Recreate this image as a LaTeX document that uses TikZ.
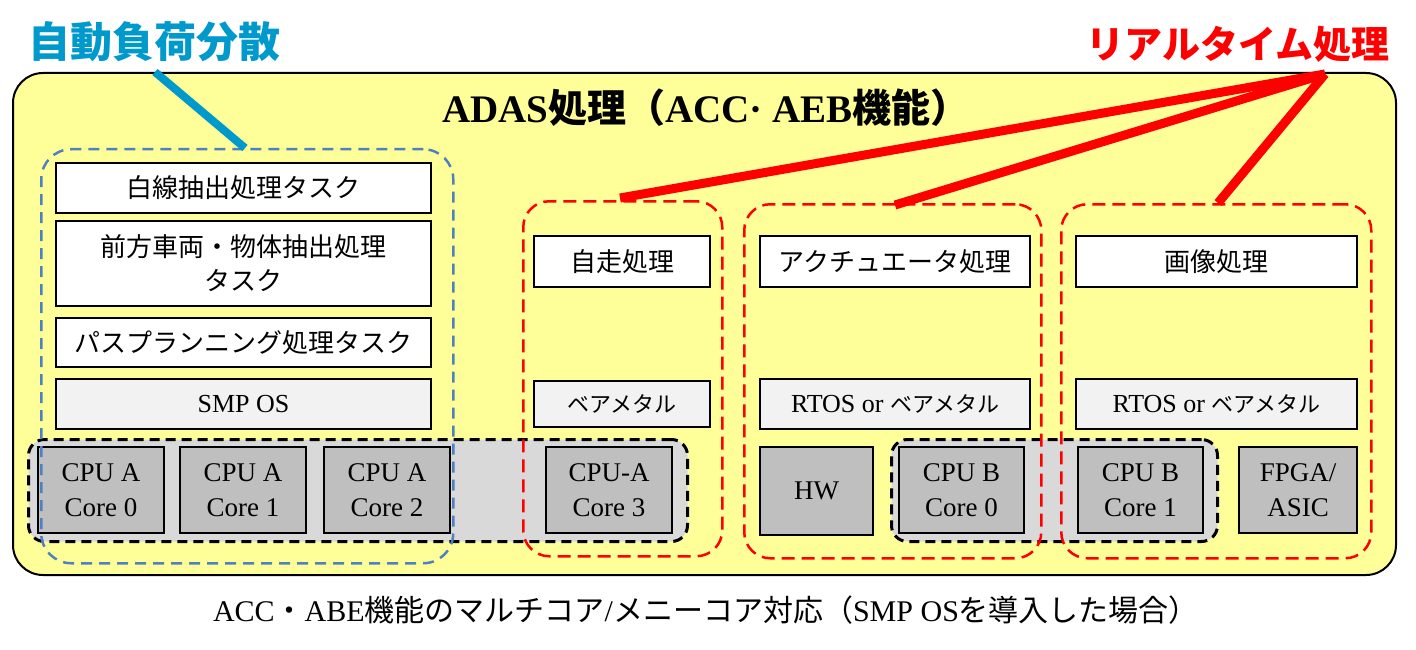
\documentclass[tikz,border=0pt]{standalone}
\usepackage{fontspec}
\setmainfont{Liberation Serif}
\newfontfamily\jp{Noto Sans CJK JP}
\definecolor{ylw}{HTML}{FFFF99}
\definecolor{grpgray}{HTML}{D9D9D9}
\definecolor{cpugray}{HTML}{BFBFBF}
\definecolor{osgray}{HTML}{F2F2F2}
\definecolor{lblblue}{HTML}{0099CC}
\definecolor{dashblue}{HTML}{4F81BD}
\definecolor{lblred}{HTML}{FF0000}
\begin{document}
\begin{tikzpicture}[x=1pt,y=-1pt,
  mainbox/.style={draw=black, line width=2pt, fill=ylw, rounded corners=30pt, anchor=north west, inner sep=0pt},
  taskbox/.style={draw=black, line width=2pt, fill=white, anchor=north west, align=center, inner sep=0pt, font=\jp\fontsize{26}{34}\selectfont},
  osbox/.style={taskbox, fill=osgray, font=\fontsize{26}{34}\selectfont},
  cpubox/.style={draw=black, line width=2pt, fill=cpugray, anchor=north west, align=center, inner sep=0pt, font=\fontsize{27}{35}\selectfont},
  grpbox/.style={draw=black, line width=3pt, dash pattern=on 10pt off 6pt, fill=grpgray, rounded corners=16pt, anchor=north west, inner sep=0pt},
  bluebox/.style={draw=dashblue, line width=2.5pt, dash pattern=on 11pt off 7pt, rounded corners=30pt, anchor=north west, inner sep=0pt},
  redbox/.style={draw=lblred, line width=2.5pt, dash pattern=on 13pt off 7pt, rounded corners=26pt, anchor=north west, inner sep=0pt},
  blueline/.style={draw=lblblue, line width=8pt},
  redline/.style={draw=lblred, line width=9pt},
  kana/.style={font=\jp\fontsize{22}{30}\selectfont}
]
\useasboundingbox (0,0) rectangle (1416,650);
\fill[white] (0,0) rectangle (1416,650);

% main frame
\node[mainbox, minimum width=1383pt, minimum height=502pt] (main) at (12,72) {};
\node[font=\bfseries\fontsize{39}{42}\selectfont] (title) at (706,108)
  {ADAS{\jp\bfseries 処理（}ACC· AEB{\jp\bfseries 機能）}};

% CPU groups
\node[grpbox, minimum width=659pt, minimum height=102pt] (grpA) at (27,438) {};
\node[grpbox, minimum width=326pt, minimum height=102pt] (grpB) at (890,438) {};

% left tasks
\node[taskbox, minimum width=375pt, minimum height=50pt] (t1) at (55,162) {白線抽出処理タスク};
\node[taskbox, minimum width=375pt, minimum height=85pt] (t2) at (55,220) {前方車両・物体抽出処理\\タスク};
\node[taskbox, minimum width=375pt, minimum height=49pt] (t3) at (55,317) {パスプランニング処理タスク};
\node[osbox, minimum width=375pt, minimum height=50pt] (smp) at (55,378) {SMP OS};

% middle / right tasks
\node[taskbox, minimum width=176pt, minimum height=51pt] (t4) at (533,235) {自走処理};
\node[osbox, minimum width=176pt, minimum height=46pt, kana] (os4) at (533,380) {ベアメタル};
\node[taskbox, minimum width=270pt, minimum height=51pt] (t5) at (759,235) {アクチュエータ処理};
\node[osbox, minimum width=270pt, minimum height=50pt] (os5) at (759,378) {RTOS or {\jp\fontsize{22}{30}\selectfont ベアメタル}};
\node[taskbox, minimum width=281pt, minimum height=51pt] (t6) at (1075,235) {画像処理};
\node[osbox, minimum width=281pt, minimum height=50pt] (os6) at (1075,378) {RTOS or {\jp\fontsize{22}{30}\selectfont ベアメタル}};

% cores
\node[cpubox, minimum width=126pt, minimum height=86pt] (a0) at (37,446) {CPU A\\Core 0};
\node[cpubox, minimum width=126pt, minimum height=86pt] (a1) at (179,446) {CPU A\\Core 1};
\node[cpubox, minimum width=126pt, minimum height=86pt] (a2) at (323,446) {CPU A\\Core 2};
\node[cpubox, minimum width=126pt, minimum height=86pt] (a3) at (545,446) {CPU-A\\Core 3};
\node[cpubox, minimum width=113pt, minimum height=88pt] (hw) at (759,446) {HW};
\node[cpubox, minimum width=125pt, minimum height=86pt] (b0) at (898,446) {CPU B\\Core 0};
\node[cpubox, minimum width=125pt, minimum height=86pt] (b1) at (1077,446) {CPU B\\Core 1};
\node[cpubox, minimum width=118pt, minimum height=86pt] (fp) at (1238,446) {FPGA/\\ASIC};

% dashed groupings
\node[bluebox, minimum width=412pt, minimum height=414pt] (blue) at (40,148) {};
\node[redbox, minimum width=199pt, minimum height=355pt] (r1) at (522,200) {};
\node[redbox, minimum width=297pt, minimum height=354pt] (r2) at (743,203) {};
\node[redbox, minimum width=310pt, minimum height=354pt] (r3) at (1060,203) {};

% labels and connectors
\node[font=\jp\bfseries\fontsize{42}{45}\selectfont, text=lblblue, anchor=west, inner sep=0pt] (lblA) at (28,42) {自動負荷分散};
\node[font=\jp\bfseries\fontsize{38}{41}\selectfont, text=lblred, anchor=east, inner sep=0pt] (lblR) at (1390,44) {リアルタイム処理};
\coordinate (bA) at (155,72);
\coordinate (bB) at (245,148);
\draw[blueline] (bA) -- (bB);
\coordinate (rh) at (1325,74);
\coordinate (r1t) at (620,198);
\coordinate (r2t) at (895,205);
\coordinate (r3t) at (1218,203);
\draw[redline] (rh) -- (r1t);
\draw[redline] (rh) -- (r2t);
\draw[redline] (rh) -- (r3t);

% caption
\node[font=\fontsize{30}{34}\selectfont] (cap) at (706,610)
  {ACC{\jp ・}ABE{\jp 機能のマルチコア}/{\jp メニーコア対応（}SMP OS{\jp を導入した場合）}};
\end{tikzpicture}
\end{document}
